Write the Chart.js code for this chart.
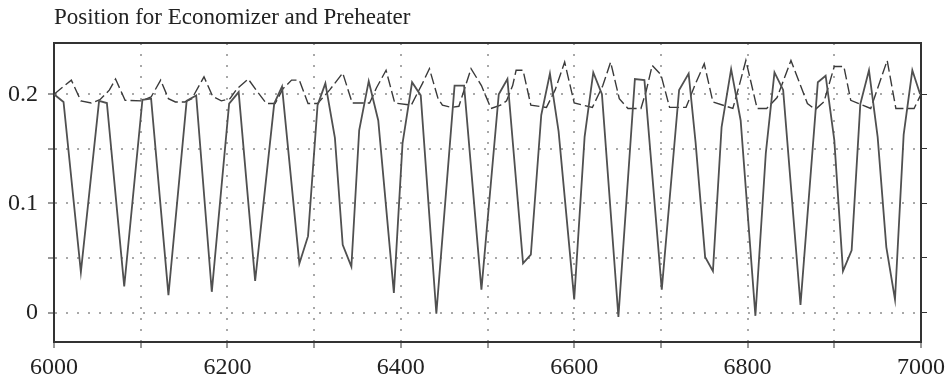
<!DOCTYPE html>
<html>
<head>
<meta charset="utf-8">
<script src="https://cdn.jsdelivr.net/npm/chart.js@4.4.1/dist/chart.umd.min.js"></script>
<style>
  html, body { margin: 0; padding: 0; background: #fff; }
  #wrap { width: 950px; height: 380px; }
</style>
</head>
<body>
<div id="wrap"><canvas id="posChart"></canvas></div>
<script>
// economizer position (solid line), vertices
const solidX = [6000, 6011, 6031, 6052, 6061, 6081, 6102, 6112, 6132, 6153, 6164, 6182,
  6202, 6213, 6232, 6254, 6263, 6283, 6293, 6304, 6313, 6324, 6333, 6343, 6352, 6363,
  6374, 6392, 6402, 6413, 6423, 6441, 6462, 6473, 6493, 6513, 6523, 6541, 6550, 6562,
  6572, 6582, 6600, 6612, 6622, 6632, 6651, 6670, 6681, 6701, 6721, 6732, 6740, 6751,
  6760, 6770, 6781, 6792, 6809, 6821, 6831, 6841, 6861, 6881, 6890, 6900, 6910, 6920,
  6930, 6940, 6950, 6960, 6970, 6980, 6990, 6999];
const solidY = [0.200, 0.193, 0.037, 0.194, 0.192, 0.024, 0.195, 0.196, 0.016, 0.194, 0.199, 0.019,
  0.1915, 0.202, 0.029, 0.1915, 0.207, 0.045, 0.070, 0.190, 0.210, 0.160, 0.062, 0.042, 0.167, 0.212,
  0.176, 0.018, 0.155, 0.211, 0.199, -0.001, 0.208, 0.208, 0.021, 0.200, 0.214, 0.045, 0.053, 0.181,
  0.219, 0.166, 0.012, 0.161, 0.220, 0.200, -0.004, 0.214, 0.213, 0.021, 0.204, 0.219, 0.156, 0.051,
  0.038, 0.170, 0.223, 0.176, -0.003, 0.146, 0.220, 0.204, 0.007, 0.211, 0.217, 0.158, 0.038, 0.057,
  0.191, 0.222, 0.161, 0.060, 0.012, 0.163, 0.222, 0.200];

// preheater position (dashed line)
const dashX = [6000, 6020, 6031, 6043, 6053, 6064, 6071, 6082, 6101, 6112, 6123, 6132, 6140, 6151,
  6159, 6173, 6183, 6193, 6203, 6211, 6224, 6233, 6245, 6255, 6264, 6274, 6283, 6293, 6304, 6318,
  6333, 6344, 6364, 6372, 6383, 6393, 6412, 6425, 6433, 6443, 6448, 6458, 6467, 6481, 6493, 6504,
  6515, 6522, 6529, 6533, 6541, 6550, 6568, 6578, 6589, 6600, 6621, 6633, 6642, 6652, 6662, 6677,
  6683, 6690, 6700, 6710, 6729, 6739, 6750, 6760, 6783, 6791, 6798, 6811, 6822, 6834, 6850, 6869,
  6878, 6888, 6900, 6911, 6919, 6942, 6961, 6971, 6992, 7000];
const dashY = [0.200, 0.213, 0.194, 0.192, 0.195, 0.204, 0.214, 0.1945, 0.194, 0.1975, 0.213, 0.196, 0.193, 0.193,
  0.196, 0.216, 0.198, 0.194, 0.196, 0.205, 0.214, 0.204, 0.1915, 0.1915, 0.205, 0.213, 0.213, 0.1915, 0.1915, 0.204,
  0.2195, 0.192, 0.192, 0.206, 0.222, 0.192, 0.190, 0.210, 0.2235, 0.196, 0.190, 0.188, 0.189, 0.2235, 0.208, 0.187,
  0.190, 0.194, 0.208, 0.222, 0.222, 0.190, 0.188, 0.204, 0.2295, 0.192, 0.188, 0.208, 0.2295, 0.196, 0.187, 0.187,
  0.203, 0.2265, 0.218, 0.188, 0.188, 0.208, 0.228, 0.193, 0.187, 0.210, 0.231, 0.187, 0.187, 0.197, 0.231, 0.1915,
  0.186, 0.193, 0.2255, 0.2255, 0.1945, 0.187, 0.231, 0.187, 0.187, 0.200];

const xMin = 6000, xMax = 7000, xStep = 100;
const yMin = -0.027, yMax = 0.247, yStep = 0.05;
const titleText = "Position for Economizer and Preheater";

const serif = "'Liberation Serif', 'Times New Roman', serif";
const gridColor = "#a8a8a8";
const axisColor = "#333";

const toPoints = (xs, ys) => xs.map((x, i) => ({ x: x, y: ys[i] }));

const ctx = document.getElementById("posChart").getContext("2d");

new Chart(ctx, {
  type: "line",
  data: {
    datasets: [
      {
        label: "Economizer",
        data: toPoints(solidX, solidY),
        borderColor: "#505050",
        borderWidth: 1.8,
        pointRadius: 0,
        tension: 0,
      },
      {
        label: "Preheater",
        data: toPoints(dashX, dashY),
        borderColor: "#3a3a3a",
        borderWidth: 1.4,
        borderDash: [11, 4],
        pointRadius: 0,
        tension: 0,
      },
    ],
  },
  options: {
    responsive: true,
    maintainAspectRatio: false,
    animation: false,
    layout: { padding: 0 },
    plugins: {
      legend: { display: false },
      tooltip: { enabled: false },
    },
    scales: {
      x: {
        type: "linear",
        position: "bottom",
        min: xMin,
        max: xMax,
        afterFit: (scale) => { scale.height = 38; },
        ticks: {
          stepSize: xStep,
          maxRotation: 0,
          padding: 5,
          color: "#222",
          font: { family: serif, size: 24 },
          callback: (v) => (v % 200 === 0 ? String(v) : ""),
        },
        grid: {
          color: gridColor,
          lineWidth: 2,
          tickLength: 6,
          tickColor: axisColor,
          tickWidth: 1,
          tickBorderDash: [],
        },
        border: { display: true, color: axisColor, width: 2, dash: [2, 9] },
      },
      x2: {
        type: "linear",
        position: "top",
        min: xMin,
        max: xMax,
        afterFit: (scale) => { scale.height = 43; },
        ticks: { display: false },
        grid: { display: false },
        border: { display: true, color: axisColor, width: 2 },
        title: {
          display: true,
          text: titleText,
          align: "start",
          color: "#222",
          padding: { top: 4, bottom: 0 },
          font: { family: serif, size: 23 },
        },
      },
      y: {
        type: "linear",
        position: "left",
        min: yMin,
        max: yMax,
        afterFit: (scale) => { scale.width = 54; },
        ticks: {
          stepSize: yStep,
          includeBounds: false,
          padding: 10,
          color: "#222",
          font: { family: serif, size: 24 },
          callback: (v) => {
            const r = Math.round(v * 10) / 10;
            return Math.abs(v - r) < 1e-6 ? String(r) : "";
          },
        },
        grid: {
          color: gridColor,
          lineWidth: 2,
          tickLength: 6,
          tickColor: axisColor,
          tickWidth: 1,
          tickBorderDash: [],
        },
        border: { display: true, color: axisColor, width: 2, dash: [2, 9] },
      },
      y2: {
        type: "linear",
        position: "right",
        min: yMin,
        max: yMax,
        afterFit: (scale) => { scale.width = 28; },
        ticks: {
          stepSize: yStep,
          includeBounds: false,
          padding: 0,
          callback: () => "",
        },
        grid: {
          drawOnChartArea: false,
          tickLength: 6,
          tickColor: axisColor,
          tickWidth: 1,
        },
        border: { display: true, color: axisColor, width: 2 },
      },
    },
  },
});
</script>
</body>
</html>
